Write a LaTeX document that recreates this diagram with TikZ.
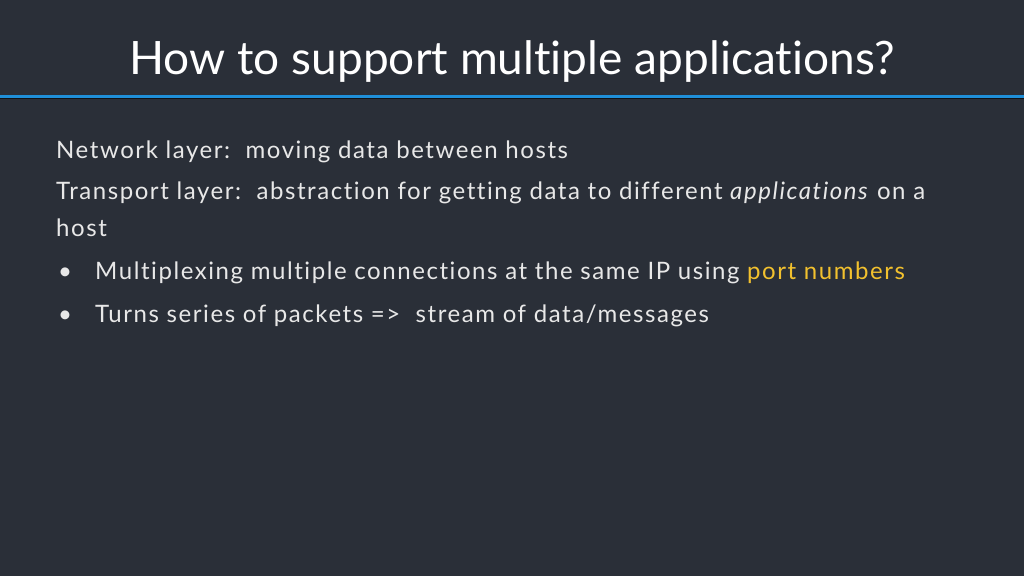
\documentclass[tikz,border=0pt]{standalone}
\usepackage{fontspec}
\setmainfont{Lato}[Ligatures=NoCommon]
\newfontfamily\bodyfont{Lato}[Ligatures=NoCommon,LetterSpace=6.5]
\definecolor{bg}{HTML}{2A2F38}
\definecolor{bar}{HTML}{1F8FD8}
\definecolor{txt}{HTML}{E8E8E8}
\definecolor{hl}{HTML}{F2C12E}
\begin{document}
\begin{tikzpicture}[x=1pt,y=-1pt,
  body/.style={anchor=base west,inner sep=0pt,text=txt,font=\bodyfont\fontsize{24}{28}\selectfont}]
\fill[bg] (0,0) rectangle (1024,576);
\useasboundingbox (0,0) rectangle (1024,576);
\fill[bar] (0,94.5) rectangle (1024,97.5);
\fill[black!60!bg] (0,97.5) rectangle (1024,99);
\node[anchor=base,inner sep=0pt,text=white,font=\fontsize{46}{52}\selectfont] (title) at (512,74) {How to support multiple applications?};
\node[body] (l1) at (56,158) {Network layer:\ \ moving data between hosts};
\node[body] (l2) at (56,199) {Transport layer:\ \ abstraction for getting data to different \textit{applications} on a};
\node[body] (l3) at (56,236) {host};
\node[body] (b1) at (58,279) {•};
\node[body] (l4) at (95,279) {Multiplexing multiple connections at the same IP using \textcolor{hl}{port numbers}};
\node[body] (b2) at (58,322) {•};
\node[body] (l5) at (95,322) {Turns series of packets =>\ \ stream of data/messages};
\end{tikzpicture}
\end{document}
